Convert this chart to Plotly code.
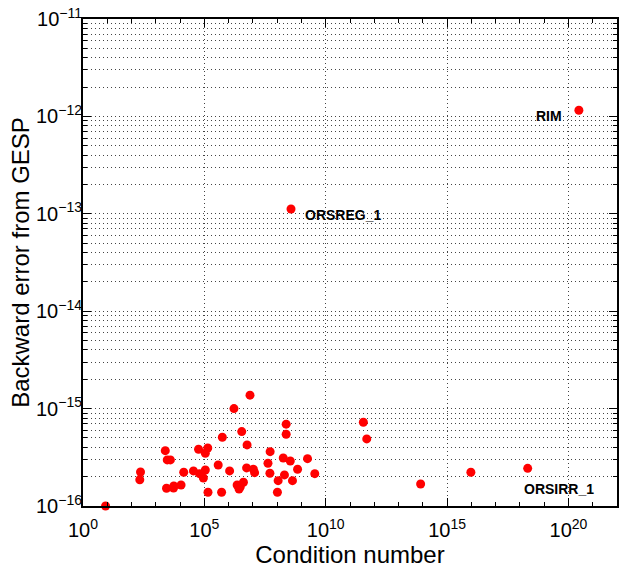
import numpy as np
import plotly.graph_objects as go

# log10 of condition number and of backward error
log10_condition = [
    0.93, 6.88, 6.22, 8.37, 8.37, 6.54, 5.74, 6.76, 3.39, 4.76,
    5.14, 5.04, 7.71, 3.47, 3.60, 5.57, 8.25, 8.54, 9.25, 7.62,
    2.37, 2.34, 4.15, 4.55, 4.80, 5.04, 4.96, 6.04, 6.74, 7.02,
    7.07, 7.70, 8.84, 9.55, 8.30, 8.04, 8.63, 3.44, 3.74, 3.73,
    4.04, 6.35, 6.48, 6.61, 6.43, 5.15, 5.71, 8.01, 11.55, 11.69,
    13.91, 15.98, 18.32, 20.43, 8.57,
]
log10_backward_error = [
    -16.000, -14.862, -15.000, -15.160, -15.263, -15.236, -15.294, -15.373, -15.432, -15.417,
    -15.404, -15.458, -15.442, -15.527, -15.527, -15.579, -15.507, -15.538, -15.514, -15.561,
    -15.651, -15.730, -15.654, -15.640, -15.668, -15.630, -15.712, -15.640, -15.609, -15.623,
    -15.658, -15.664, -15.623, -15.668, -15.681, -15.740, -15.740, -15.818, -15.794, -15.815,
    -15.784, -15.784, -15.802, -15.756, -15.825, -15.859, -15.859, -15.859, -15.140, -15.311,
    -15.774, -15.654, -15.613, -11.937, -12.951,
]

# text labels (log10 x, log10 y, anchor)
label_texts = ["RIM", "ORSREG_1", "ORSIRR_1"]
label_log10_x = [19.83, 9.05, 18.08]
label_log10_y = [-12.00, -13.01, -15.825]
label_anchor = ["right", "left", "left"]

x_tick_exponents = [0, 5, 10, 15, 20]
y_tick_exponents = [-16, -15, -14, -13, -12, -11]

cond = 10.0 ** np.array(log10_condition)
berr = 10.0 ** np.array(log10_backward_error)

FONT = "Liberation Sans, Arial, Helvetica, sans-serif"

def sup(e):
    s = str(e).replace("-", "\u2212")
    return f"10<sup>{s}</sup>"

x_minor = [10.0 ** k for k in range(0, 23)]
y_minor = [m * 10.0 ** k for k in range(-16, -11) for m in range(2, 10)]

fig = go.Figure()
fig.add_trace(go.Scatter(
    x=cond, y=berr, mode="markers",
    marker=dict(color="#ff0000", size=9, line=dict(width=0)),
    cliponaxis=False, showlegend=False,
))

for t, lx, ly, anc in zip(label_texts, label_log10_x, label_log10_y, label_anchor):
    fig.add_annotation(
        x=lx, y=ly, text=f"<b>{t}</b>", showarrow=False,
        xanchor=anc, yanchor="middle",
        font=dict(family=FONT, size=14, color="black"),
    )

grid_dash = "1px,3px"
axis_common = dict(
    type="log", showline=True, linewidth=2, linecolor="black", mirror="allticks",
    ticks="inside", ticklen=8, tickwidth=1, tickcolor="black",
    showgrid=True, gridcolor="#444444", gridwidth=1, griddash=grid_dash,
    zeroline=False, automargin=False,
    tickfont=dict(family=FONT, size=20, color="black"),
)

fig.update_xaxes(
    **axis_common,
    range=[0, 22],
    tickmode="array",
    tickvals=[10.0 ** e for e in x_tick_exponents],
    ticktext=[sup(e) for e in x_tick_exponents],
    ticklabelstandoff=5,
    minor=dict(tickmode="array", tickvals=x_minor, ticks="inside", ticklen=4,
               tickcolor="black", showgrid=False),
    title=dict(text="Condition number", font=dict(family=FONT, size=24, color="black"),
               standoff=4),
)
fig.update_yaxes(
    **axis_common,
    range=[-16, -11],
    tickmode="array",
    tickvals=[10.0 ** e for e in y_tick_exponents],
    ticktext=[sup(e) for e in y_tick_exponents],
    ticklabelstandoff=-5,
    minor=dict(tickmode="array", tickvals=y_minor, ticks="inside", ticklen=4,
               tickcolor="black", showgrid=True, gridcolor="#444444",
               gridwidth=1, griddash=grid_dash),
    title=dict(text="Backward error from GESP", font=dict(family=FONT, size=24, color="black"),
               standoff=0),
)

fig.update_layout(
    width=633, height=572,
    margin=dict(l=83, r=16, t=19, b=66, pad=0),
    paper_bgcolor="white", plot_bgcolor="white",
    font=dict(family=FONT, color="black"),
)

fig.write_html("out.html")
